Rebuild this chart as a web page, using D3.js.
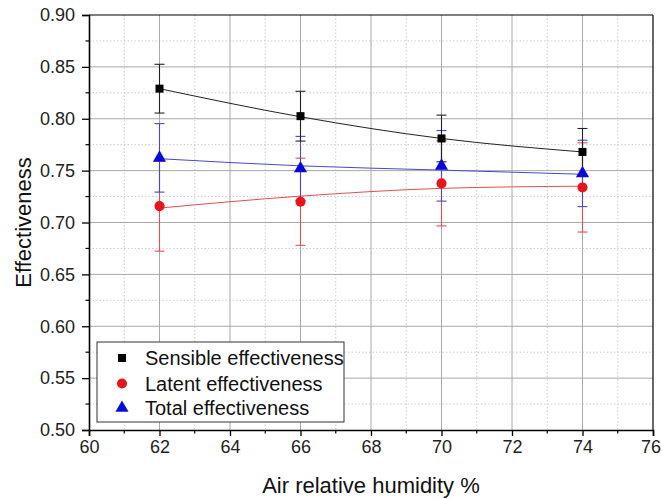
<!DOCTYPE html>
<html><head><meta charset="utf-8">
<script src="https://cdn.jsdelivr.net/npm/d3@7"></script>
<style>body{margin:0;background:#fff}svg{display:block;font-family:"Liberation Sans",Arial,sans-serif}</style>
</head><body><svg id="c" width="662" height="499"></svg>
<script>
const humidity = [62, 66, 70, 74];
const sensible = [0.829, 0.8025, 0.781, 0.768];
const sensibleErr = [0.0235, 0.024, 0.0225, 0.0226];
const sensibleFit = [0.829, 0.8019, 0.781, 0.768];
const latent = [0.7158, 0.720, 0.7377, 0.7338];
const latentErr = [0.0434, 0.042, 0.041, 0.043];
const latentFit = [0.7139, 0.7254, 0.7329, 0.735];
const total = [0.7623, 0.752, 0.7546, 0.7473];
const totalErr = [0.033, 0.031, 0.034, 0.032];
const totalFit = [0.7615, 0.7546, 0.7505, 0.7465];
const xTicks = [60, 62, 64, 66, 68, 70, 72, 74, 76];
const yTicks = [0.50, 0.55, 0.60, 0.65, 0.70, 0.75, 0.80, 0.85, 0.90];
const legendLabels = ["Sensible effectiveness", "Latent effectiveness", "Total effectiveness"];

const svg = d3.select("#c");
const L = 89, R = 653, T = 15, B = 430;
const x = d3.scaleLinear().domain([60, 76]).range([L, R]);
const y = d3.scaleLinear().domain([0.5, 0.9]).range([B, T]);

const minorX = d3.range(61, 76, 2);
const minorY = d3.range(0.525, 0.9, 0.05);

// minor grid
const g = svg.append("g");
g.selectAll(".mgx").data(minorX).join("line")
  .attr("x1", d => x(d)).attr("x2", d => x(d)).attr("y1", T).attr("y2", B)
  .attr("stroke", "#cccccc").attr("stroke-dasharray", "1.5,2").attr("stroke-width", 1);
g.selectAll(".mgy").data(minorY).join("line")
  .attr("y1", d => y(d)).attr("y2", d => y(d)).attr("x1", L).attr("x2", R)
  .attr("stroke", "#cccccc").attr("stroke-dasharray", "1.5,2").attr("stroke-width", 1);
// major grid
g.selectAll(".gx").data(xTicks.slice(1, -1)).join("line")
  .attr("x1", d => x(d)).attr("x2", d => x(d)).attr("y1", T).attr("y2", B)
  .attr("stroke", "#a8a8a8").attr("stroke-width", 1);
g.selectAll(".gy").data(yTicks.slice(1, -1)).join("line")
  .attr("y1", d => y(d)).attr("y2", d => y(d)).attr("x1", L).attr("x2", R)
  .attr("stroke", "#a8a8a8").attr("stroke-width", 1);

// frame top/right
svg.append("line").attr("x1", L).attr("x2", R).attr("y1", T).attr("y2", T).attr("stroke", "#000").attr("stroke-width", 1.2);
svg.append("line").attr("x1", R).attr("x2", R).attr("y1", T).attr("y2", B).attr("stroke", "#000").attr("stroke-width", 1.2);

// axes
const xAxis = d3.axisBottom(x).tickValues(xTicks).tickFormat(d3.format("d")).tickSize(6).tickPadding(4);
const yAxis = d3.axisLeft(y).tickValues(yTicks).tickFormat(d3.format(".2f")).tickSize(7).tickPadding(7);
const gx = svg.append("g").attr("transform", `translate(0,${B})`).call(xAxis);
const gy = svg.append("g").attr("transform", `translate(${L},0)`).call(yAxis);
[gx, gy].forEach(a => {
  a.select(".domain").attr("stroke", "#000").attr("stroke-width", 1.6);
  a.selectAll(".tick line").attr("stroke", "#000").attr("stroke-width", 1.3);
  a.selectAll("text").attr("font-size", 18).attr("fill", "#222").style("font-family", "Liberation Sans, Arial, sans-serif");
});
gx.selectAll(".tick text").filter(d => d === 76).attr("dx", -2.5);
// minor ticks
svg.selectAll(".mtx").data(minorX).join("line")
  .attr("x1", d => x(d)).attr("x2", d => x(d)).attr("y1", B).attr("y2", B + 3.5).attr("stroke", "#000").attr("stroke-width", 1.2);
svg.selectAll(".mty").data(minorY).join("line")
  .attr("y1", d => y(d)).attr("y2", d => y(d)).attr("x1", L).attr("x2", L - 3.5).attr("stroke", "#000").attr("stroke-width", 1.2);

// titles
svg.append("text").attr("x", (L + R) / 2).attr("y", 493).attr("text-anchor", "middle")
  .attr("font-size", 22).attr("fill", "#111").text("Air relative humidity %");
svg.append("text").attr("transform", `translate(31,${(T + B) / 2}) rotate(-90)`).attr("text-anchor", "middle")
  .attr("font-size", 22).attr("fill", "#111").text("Effectiveness");

const series = [
  {name: legendLabels[1], v: latent, e: latentErr, f: latentFit, c: "#e8141b", lc: "#e05050", sym: d3.symbolCircle, size: 80},
  {name: legendLabels[2], v: total, e: totalErr, f: totalFit, c: "#0a0ad8", lc: "#4848c8", sym: d3.symbolTriangle, size: 75},
  {name: legendLabels[0], v: sensible, e: sensibleErr, f: sensibleFit, c: "#000", lc: "#222", sym: d3.symbolSquare, size: 64},
];
const line = d3.line().x((d, i) => x(humidity[i])).y(d => y(d)).curve(d3.curveMonotoneX);

// fit lines
series.forEach(s => {
  svg.append("path").datum(s.f).attr("d", line).attr("fill", "none").attr("stroke", s.lc).attr("stroke-width", 1);
});
// error bars
series.forEach(s => {
  const eg = svg.append("g").attr("stroke", s.lc).attr("stroke-width", 1.1);
  humidity.forEach((h, i) => {
    const cx = x(h), y1 = y(s.v[i] + s.e[i]), y2 = y(s.v[i] - s.e[i]);
    eg.append("line").attr("x1", cx).attr("x2", cx).attr("y1", y1).attr("y2", y2);
    eg.append("line").attr("x1", cx - 5).attr("x2", cx + 5).attr("y1", y1).attr("y2", y1);
    eg.append("line").attr("x1", cx - 5).attr("x2", cx + 5).attr("y1", y2).attr("y2", y2);
  });
});
// markers
series.forEach(s => {
  const sym = d3.symbol().type(s.sym).size(s.size);
  svg.selectAll(null).data(s.v).join("path")
    .attr("transform", (d, i) => `translate(${x(humidity[i])},${y(d)})`)
    .attr("d", sym).attr("fill", s.c);
});

// legend
const lg = svg.append("g");
lg.append("rect").attr("x", 97).attr("y", 342).attr("width", 247).attr("height", 80)
  .attr("fill", "#fff").attr("stroke", "#333").attr("stroke-width", 1);
const legendSeries = [series[2], series[0], series[1]];
const rowsY = [358, 383.5, 408];
legendSeries.forEach((s, i) => {
  lg.append("path").attr("transform", `translate(122,${rowsY[i]})`)
    .attr("d", d3.symbol().type(s.sym).size(s.size)).attr("fill", s.c);
  lg.append("text").attr("x", 145).attr("y", rowsY[i] + 7).attr("font-size", 20).attr("fill", "#111").text(legendLabels[i]);
});
</script></body></html>
